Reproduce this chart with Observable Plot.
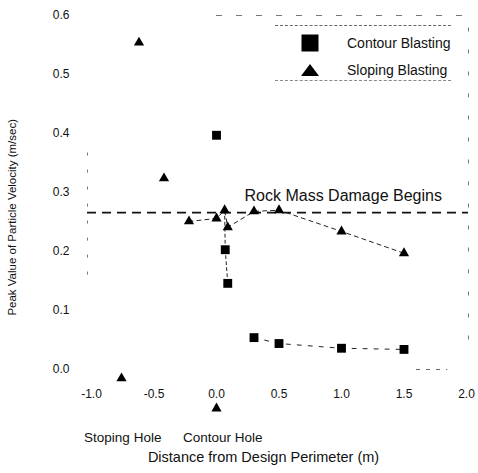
<!DOCTYPE html>
<html><head><meta charset="utf-8">
<script src="https://cdn.jsdelivr.net/npm/d3@7"></script>
<script src="https://cdn.jsdelivr.net/npm/@observablehq/plot@0.6"></script>
<style>
body{margin:0;background:#fff;font-family:"Liberation Sans",Arial,sans-serif}
#wrap{position:relative;width:478px;height:473px}
#chart svg{display:block}
#legend{position:absolute;left:275px;top:25px;width:176px;height:56px;border-top:1px dashed #666;border-bottom:1px dashed #888;box-sizing:border-box}
.item{position:absolute;left:0;height:20px;display:flex;align-items:center;font-size:14px;color:#111}
.item svg{margin-left:25px;margin-right:27px}
</style>
</head><body>
<div id="wrap"><div id="chart"></div>
<div id="legend">
 <div class="item" style="top:7px"><svg width="20" height="20"><rect x="1.5" y="1.5" width="17" height="17" fill="#000"/></svg><span>Contour Blasting</span></div>
 <div class="item" style="top:34px"><svg width="20" height="14"><path d="M10 1 L19 13 L1 13 Z" fill="#000"/></svg><span>Sloping Blasting</span></div>
</div>
</div>
<script>
// Contour Blasting (squares)
const contourX = [0.0, 0.07, 0.09, 0.3, 0.5, 1.0, 1.5];
const contourY = [0.397, 0.203, 0.146, 0.054, 0.044, 0.036, 0.034];
// Sloping Blasting (triangles)
const slopingX = [-0.62, -0.42, -0.22, 0.0, 0.065, 0.09, 0.3, 0.5, 1.0, 1.5, -0.76, 0.0];
const slopingY = [0.554, 0.324, 0.251, 0.256, 0.27, 0.241, 0.268, 0.27, 0.234, 0.197, -0.015, -0.066];
// Damage threshold
const damageLevel = 0.266;
const damageLabel = "Rock Mass Damage Begins";
// Ticks
const xTicks = [-1.0, -0.5, 0.0, 0.5, 1.0, 1.5, 2.0];
const yTicks = [0.0, 0.1, 0.2, 0.3, 0.4, 0.5, 0.6];
const holeLabels = ["Stoping Hole", "Contour Hole"];
const holeX = [-0.75, 0.05];
const xTitle = "Distance from Design Perimeter (m)";
const yTitle = "Peak Value of Particle Velocity (m/sec)";

const contour = contourX.map((x, i) => ({x, y: contourY[i], i}));
const sloping = slopingX.map((x, i) => ({x, y: slopingY[i], i}));
const holes = holeLabels.map((t, i) => ({t, x: holeX[i]}));

const xDom = [-1.032, 2.016], yDom = [-0.0729, 0.6];

const chart = Plot.plot({
  width: 478, height: 473,
  marginLeft: 87, marginRight: 10, marginTop: 15, marginBottom: 61,
  x: {domain: xDom, axis: null},
  y: {domain: yDom},
  style: {fontFamily: "'Liberation Sans', Arial, sans-serif", background: "white", color: "#111"},
  marks: [
    // faint frame fragments
    Plot.ruleY([yDom[1]], {x1: 0.0, x2: xDom[1], stroke: "#777", strokeDasharray: "6,14", strokeWidth: 1}),
    Plot.ruleX([xDom[0]], {y1: 0.16, y2: 0.37, stroke: "#777", strokeDasharray: "3,14"}),
    Plot.ruleX([xDom[1]], {y1: 0.05, y2: 0.6, stroke: "#777", strokeDasharray: "4,18"}),
    Plot.ruleY([0], {x1: 1.6, x2: 1.85, stroke: "#666", strokeDasharray: "4,6"}),
    // threshold
    Plot.ruleY([damageLevel], {stroke: "#111", strokeWidth: 1.7, strokeDasharray: "9,6"}),
    Plot.text([damageLabel], {x: 0.224, y: 0.295, textAnchor: "start", fontSize: 16}),
    // connecting dashed lines
    Plot.line(sloping.filter(d => d.i >= 2 && d.i <= 9), {x: "x", y: "y", stroke: "#222", strokeWidth: 1, strokeDasharray: "4,4"}),
    Plot.line(contour.filter(d => d.i >= 3), {x: "x", y: "y", stroke: "#222", strokeWidth: 1, strokeDasharray: "4,7"}),
    Plot.line(contour.filter(d => d.i === 1 || d.i === 2), {x: "x", y: "y", stroke: "#222", strokeWidth: 1, strokeDasharray: "3,3"}),
    Plot.line([sloping[4], contour[1]], {x: "x", y: "y", stroke: "#222", strokeWidth: 1, strokeDasharray: "3,3"}),
    // points
    Plot.dot(contour, {x: "x", y: "y", symbol: "square", r: 5, fill: "#000"}),
    Plot.dot(sloping, {x: "x", y: "y", symbol: "triangle", r: 3.8, fill: "#000"}),
    // y axis
    Plot.axisY(yTicks, {tickSize: 0, tickPadding: 18, tickFormat: d => d.toFixed(1), fontSize: 12, label: null}),
    // x tick labels (placed inside, as in the original)
    Plot.text(xTicks, {x: d => d, y: -0.042, text: d => d.toFixed(1), fontSize: 12}),
    // hole labels
    Plot.text(holes, {x: "x", frameAnchor: "bottom", dy: 29, text: "t", fontSize: 13.5}),
    // axis titles
    Plot.text([xTitle], {x: 0.376, frameAnchor: "bottom", dy: 49, fontSize: 14.5}),
    Plot.text([yTitle], {x: xDom[0], y: 0.258, dx: -75, rotate: -90, fontSize: 11.5})
  ]
});
document.getElementById("chart").appendChild(chart);
</script>
</body></html>
